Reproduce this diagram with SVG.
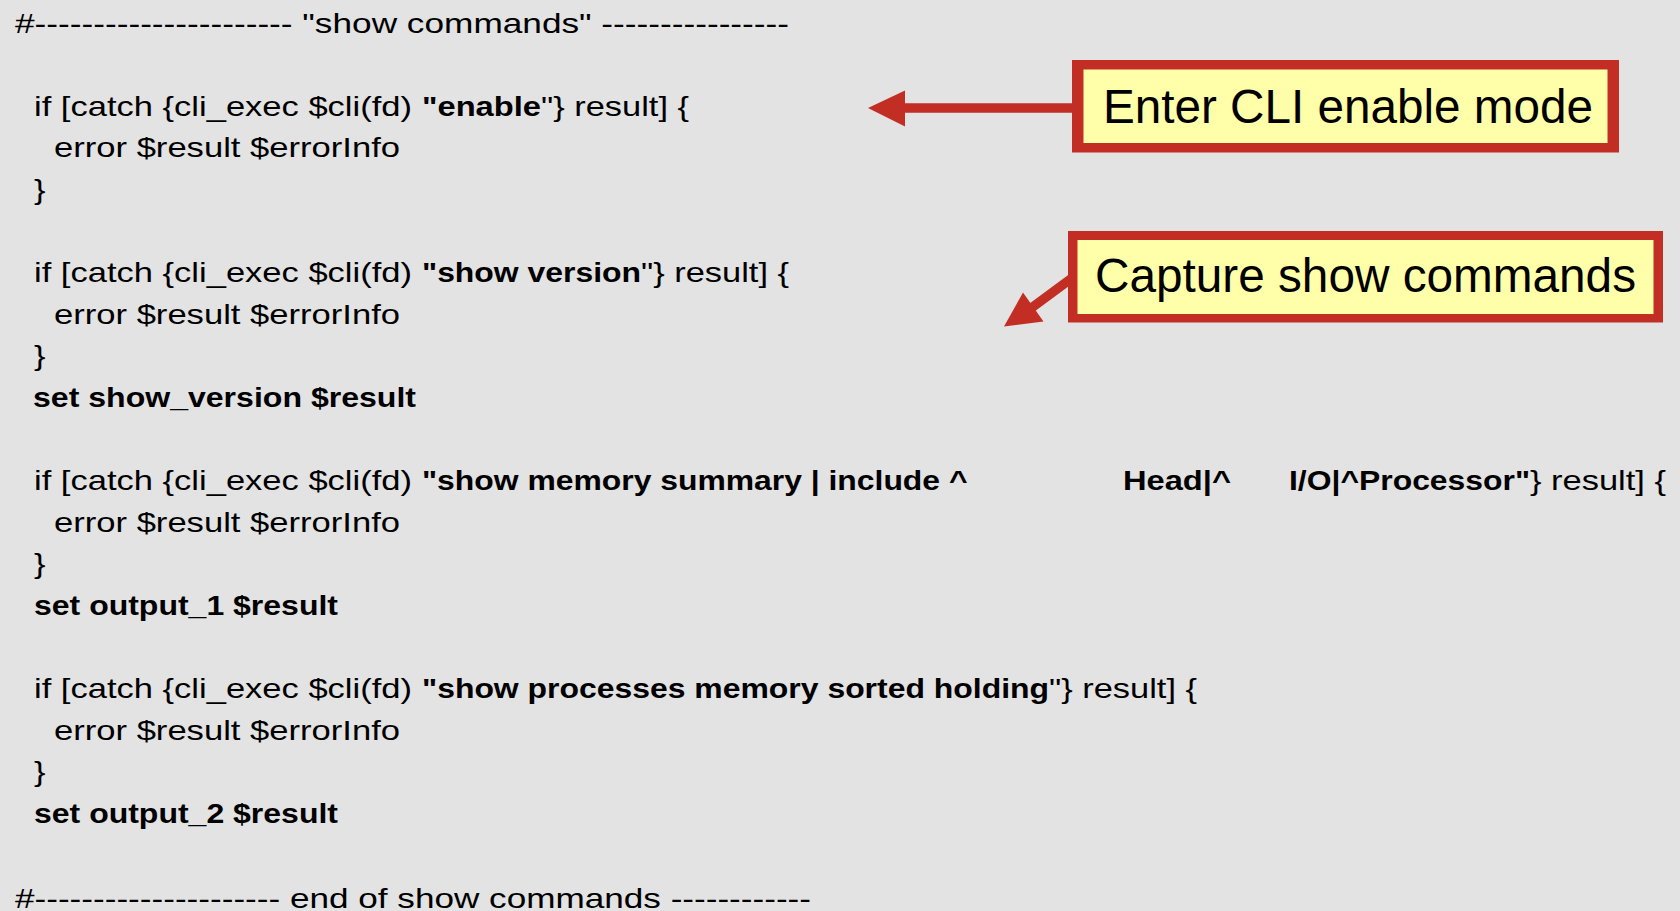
<svg xmlns="http://www.w3.org/2000/svg" width="1680" height="911" viewBox="0 0 1680 911">
  <style>
    .code { font-family: "Liberation Sans", Arial, Helvetica, sans-serif; font-size: 28px; fill: #000; }
    .b { font-weight: bold; }
    .call { font-family: "Liberation Sans", Arial, Helvetica, sans-serif; font-size: 47.5px; fill: #000; }
    .border { fill: #C22E24; }
    .inner { fill: #FFFFAA; }
    .shaft { stroke: #C22E24; stroke-width: 9.5; fill: none; }
    .head { fill: #C22E24; }
  </style>
  <rect x="0" y="0" width="1680" height="911" fill="#E3E3E3"/>

  <g id="code">
    <text class="code" x="15" y="32.5" textLength="774" lengthAdjust="spacingAndGlyphs">#---------------------- "show commands" ----------------</text>

    <text class="code" x="34" y="115.7" textLength="378" lengthAdjust="spacingAndGlyphs">if [catch {cli_exec $cli(fd)</text>
    <text class="code b" x="422" y="115.7" textLength="119" lengthAdjust="spacingAndGlyphs">"enable</text>
    <text class="code" x="541" y="115.7" textLength="148" lengthAdjust="spacingAndGlyphs">"} result] {</text>
    <text class="code" x="54" y="157.3" textLength="346" lengthAdjust="spacingAndGlyphs">error $result $errorInfo</text>
    <text class="code" x="34" y="198.9" textLength="11.5" lengthAdjust="spacingAndGlyphs">}</text>

    <text class="code" x="34" y="282.1" textLength="378" lengthAdjust="spacingAndGlyphs">if [catch {cli_exec $cli(fd)</text>
    <text class="code b" x="422" y="282.1" textLength="219" lengthAdjust="spacingAndGlyphs">"show version</text>
    <text class="code" x="641" y="282.1" textLength="148" lengthAdjust="spacingAndGlyphs">"} result] {</text>
    <text class="code" x="54" y="323.7" textLength="346" lengthAdjust="spacingAndGlyphs">error $result $errorInfo</text>
    <text class="code" x="34" y="365.3" textLength="11.5" lengthAdjust="spacingAndGlyphs">}</text>
    <text class="code b" x="33" y="406.9" textLength="383" lengthAdjust="spacingAndGlyphs">set show_version $result</text>

    <text class="code" x="34" y="490.1" textLength="378" lengthAdjust="spacingAndGlyphs">if [catch {cli_exec $cli(fd)</text>
    <text class="code b" x="422" y="490.1" textLength="545.5" lengthAdjust="spacingAndGlyphs">"show memory summary | include ^</text>
    <text class="code b" x="1123" y="490.1" textLength="108" lengthAdjust="spacingAndGlyphs">Head|^</text>
    <text class="code b" x="1289" y="490.1" textLength="241" lengthAdjust="spacingAndGlyphs">I/O|^Processor"</text>
    <text class="code" x="1530" y="490.1" textLength="136" lengthAdjust="spacingAndGlyphs">} result] {</text>
    <text class="code" x="54" y="531.7" textLength="346" lengthAdjust="spacingAndGlyphs">error $result $errorInfo</text>
    <text class="code" x="34" y="573.3" textLength="11.5" lengthAdjust="spacingAndGlyphs">}</text>
    <text class="code b" x="34" y="614.9" textLength="304" lengthAdjust="spacingAndGlyphs">set output_1 $result</text>

    <text class="code" x="34" y="698.1" textLength="378" lengthAdjust="spacingAndGlyphs">if [catch {cli_exec $cli(fd)</text>
    <text class="code b" x="422" y="698.1" textLength="627" lengthAdjust="spacingAndGlyphs">"show processes memory sorted holding</text>
    <text class="code" x="1049" y="698.1" textLength="148" lengthAdjust="spacingAndGlyphs">"} result] {</text>
    <text class="code" x="54" y="739.7" textLength="346" lengthAdjust="spacingAndGlyphs">error $result $errorInfo</text>
    <text class="code" x="34" y="781.3" textLength="11.5" lengthAdjust="spacingAndGlyphs">}</text>
    <text class="code b" x="34" y="822.9" textLength="304" lengthAdjust="spacingAndGlyphs">set output_2 $result</text>

    <text class="code" x="15" y="907.6" textLength="796" lengthAdjust="spacingAndGlyphs">#--------------------- end of show commands ------------</text>
  </g>

  <g id="connectors">
    <line class="shaft" x1="902" y1="108" x2="1076" y2="108"/>
    <polygon class="head" points="868,108 905,90.5 905,126.5"/>
    <line class="shaft" x1="1072" y1="278" x2="1030" y2="309"/>
    <polygon class="head" points="1004,326.5 1023,292.5 1043.5,321.5"/>
  </g>

  <g id="callout-enable">
    <rect class="border" x="1072" y="60" width="547" height="92.5"/>
    <rect class="inner" x="1083.5" y="69.5" width="524" height="73.5"/>
    <text class="call" x="1103" y="123.3" textLength="490" lengthAdjust="spacingAndGlyphs">Enter CLI enable mode</text>
  </g>

  <g id="callout-capture">
    <rect class="border" x="1068" y="231" width="595" height="91.5"/>
    <rect class="inner" x="1077.5" y="240" width="576" height="74"/>
    <text class="call" x="1095" y="291.7" textLength="541" lengthAdjust="spacingAndGlyphs">Capture show commands</text>
  </g>
</svg>
